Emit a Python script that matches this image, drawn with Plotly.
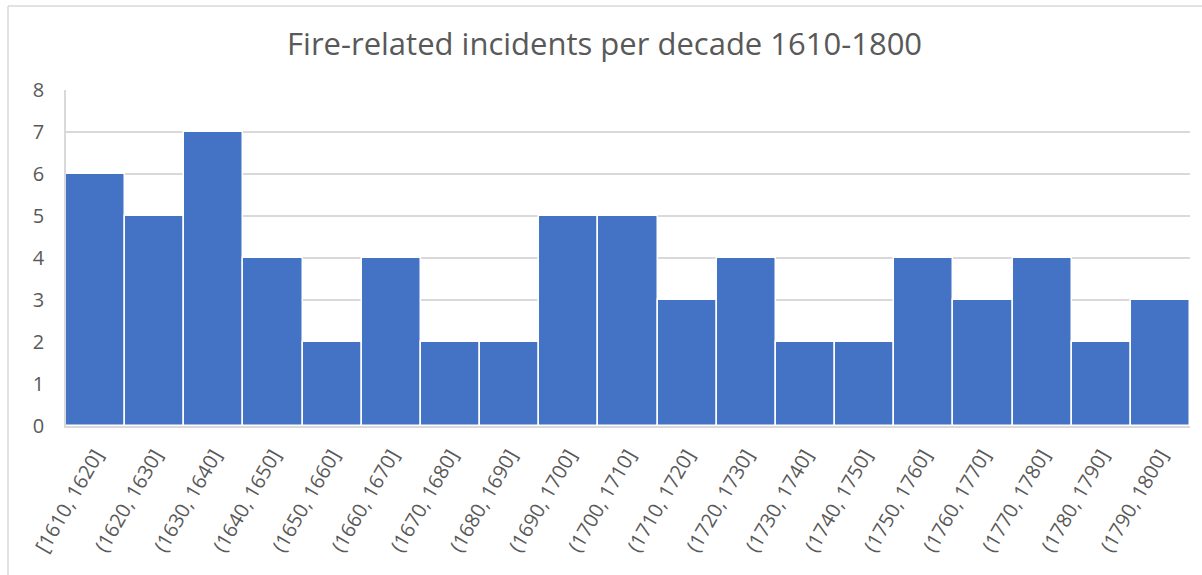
import plotly.graph_objects as go

# Decade bins and incident counts
bins = ["[1610, 1620]", "(1620, 1630]", "(1630, 1640]", "(1640, 1650]", "(1650, 1660]",
        "(1660, 1670]", "(1670, 1680]", "(1680, 1690]", "(1690, 1700]", "(1700, 1710]",
        "(1710, 1720]", "(1720, 1730]", "(1730, 1740]", "(1740, 1750]", "(1750, 1760]",
        "(1760, 1770]", "(1770, 1780]", "(1780, 1790]", "(1790, 1800]"]
counts = [6, 5, 7, 4, 2, 4, 2, 2, 5, 5, 3, 4, 2, 2, 4, 3, 4, 2, 3]
y_ticks = [0, 1, 2, 3, 4, 5, 6, 7, 8]

W, H = 1202, 575
L, R, T, B = 66, 12, 90, 149
pw, ph = W - L - R, H - T - B

fig = go.Figure(go.Bar(
    x=bins, y=counts,
    marker=dict(color="#4472C4", line=dict(color="white", width=1.5)),
))

def px_x(v):
    return (v - L) / pw

def px_y(v):
    return 1 + (T - v) / ph

# Chart frame (left and top edges visible)
fig.add_shape(type="line", xref="paper", yref="paper",
              x0=px_x(8), x1=px_x(8), y0=px_y(6), y1=px_y(600),
              line=dict(color="#D9D9D9", width=1.5))
fig.add_shape(type="line", xref="paper", yref="paper",
              x0=px_x(8), x1=px_x(1210), y0=px_y(6), y1=px_y(6),
              line=dict(color="#D9D9D9", width=1.5))

font_fam = "Open Sans, Liberation Sans, sans-serif"
fig.update_layout(
    width=W, height=H,
    margin=dict(l=L, r=R, t=T, b=B),
    paper_bgcolor="white", plot_bgcolor="white",
    bargap=0,
    showlegend=False,
    title=dict(text="Fire-related incidents per decade 1610-1800",
               x=0.503, xanchor="center", y=1 - 44 / H, yanchor="middle",
               font=dict(family=font_fam, size=31, color="#595959")),
    xaxis=dict(tickangle=-60, tickfont=dict(family=font_fam, size=20, color="#595959"),
               showline=True, linecolor="#D9D9D9", linewidth=1.5,
               ticks="", showgrid=False, ticklabelstandoff=8),
    yaxis=dict(range=[0, 8], tickvals=y_ticks,
               tickfont=dict(family=font_fam, size=20, color="#595959"),
               gridcolor="#D9D9D9", gridwidth=1.5,
               showline=True, linecolor="#D9D9D9", linewidth=1.5,
               zeroline=False, ticks="", ticklen=0, ticklabelstandoff=16),
)

fig.write_html("out.html")
